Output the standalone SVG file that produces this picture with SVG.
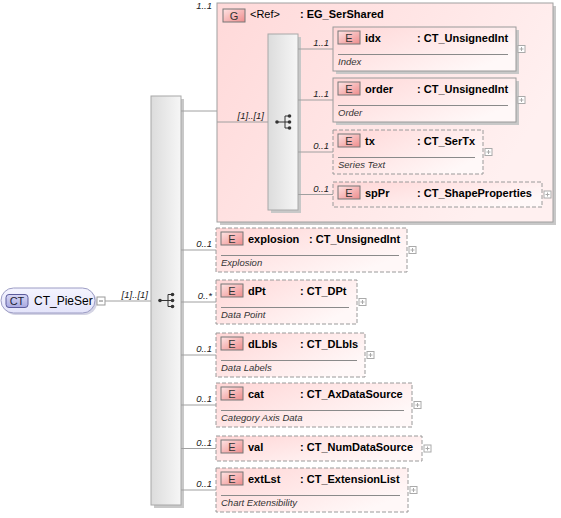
<svg xmlns="http://www.w3.org/2000/svg" width="561" height="518" viewBox="0 0 561 518">
<defs>
<linearGradient id="elG" x1="0" y1="0" x2="1" y2="0.6"><stop offset="0" stop-color="#ffd6d6"/><stop offset="1" stop-color="#fff8f8"/></linearGradient>
<linearGradient id="grpG" x1="0" y1="0" x2="1" y2="0.4"><stop offset="0" stop-color="#ffd9d9"/><stop offset="1" stop-color="#fff0f0"/></linearGradient>
<linearGradient id="bdG" x1="0" y1="0" x2="1" y2="1"><stop offset="0" stop-color="#ffe4e4"/><stop offset="1" stop-color="#ee8c8c"/></linearGradient>
<linearGradient id="seqG" x1="0" y1="0" x2="1" y2="0"><stop offset="0" stop-color="#dcdcdc"/><stop offset="1" stop-color="#f6f6f6"/></linearGradient>
<linearGradient id="ctG" x1="0" y1="0" x2="0" y2="1"><stop offset="0" stop-color="#f4f4ff"/><stop offset="1" stop-color="#e4e4fa"/></linearGradient>
<linearGradient id="ctB" x1="0" y1="0" x2="0" y2="1"><stop offset="0" stop-color="#d8d8f6"/><stop offset="1" stop-color="#a8a8e0"/></linearGradient>
<g id="seqIcon">
<line x1="-7" y1="0" x2="1" y2="0" stroke="#333"/>
<line x1="1" y1="-6" x2="1" y2="6" stroke="#333"/>
<line x1="1" y1="-6" x2="5" y2="-6" stroke="#333"/>
<line x1="1" y1="6" x2="5" y2="6" stroke="#333"/>
<line x1="1" y1="0" x2="5" y2="0" stroke="#333"/>
<circle cx="-7" cy="0" r="1.8" fill="#333"/>
<circle cx="5.5" cy="-6" r="1.8" fill="#333"/>
<circle cx="5.5" cy="0" r="1.8" fill="#333"/>
<circle cx="5.5" cy="6" r="1.8" fill="#333"/>
</g>
<g id="plus">
<rect x="0" y="0" width="7" height="7" fill="#fff" stroke="#aaa"/>
<path d="M1.5 3.5H5.5M3.5 1.5V5.5" stroke="#aaa"/>
</g>
</defs>
<style>
text{font-family:"Liberation Sans",Arial,sans-serif}
.ln{stroke:#a0a0a0;stroke-width:1;fill:none}
.card{font-size:9.5px;font-style:italic;fill:#222;text-anchor:end}
.nm{font-size:11px;font-weight:bold;fill:#000}
.doc{font-size:9.5px;font-style:italic;fill:#333}
.box{fill:url(#elG);stroke:#9a9a9a}
.opt{stroke-dasharray:4 2}
.shd{fill:#c8c8c8}
.sep{stroke:#8a8a8a}
.bd{fill:url(#bdG);stroke:#777}
.bl{font-size:11px;fill:#333;text-anchor:middle}
.seq{fill:url(#seqG);stroke:#a8a8a8}
</style>

<g id="CT_PieSer">
<rect x="3" y="290" width="94" height="25" rx="12.5" fill="#d4d4e4"/>
<rect x="1" y="288" width="94" height="25" rx="12.5" fill="url(#ctG)" stroke="#9c9cc4"/>
<rect x="6" y="294.5" width="22" height="13" rx="3" fill="url(#ctB)" stroke="#5c5c9c"/>
<text x="17" y="305" style="font-size:11px;fill:#223" text-anchor="middle">CT</text>
<text x="34" y="305" style="font-size:12px;fill:#000">CT_PieSer</text>
<rect x="97" y="297" width="8" height="8" fill="#fff" stroke="#999"/>
<line x1="99" y1="301" x2="103" y2="301" stroke="#777"/>
</g>

<g id="seq1">
<rect x="154" y="99" width="30" height="409" class="shd"/>
<rect x="151" y="96" width="30" height="409" class="seq"/>
<use href="#seqIcon" x="167" y="300.5"/>
</g>

<g id="EG_SerShared">
<rect x="220" y="6" width="336" height="219" class="shd"/>
<rect x="217" y="3" width="336" height="219" fill="url(#grpG)" stroke="#a0a0a0"/>
<rect x="223" y="9" width="22" height="13" class="bd"/>
<text class="bl" x="234" y="20">G</text>
<text x="250" y="18" style="font-size:11px;fill:#000">&lt;Ref&gt;</text>
<text class="nm" x="300" y="18">: EG_SerShared</text>
</g>

<g id="seq2">
<rect x="271" y="37" width="30" height="176" class="shd"/>
<rect x="268" y="34" width="30" height="176" class="seq"/>
<use href="#seqIcon" x="284" y="122"/>
</g>

<g id="idx">
<rect x="336" y="30" width="183" height="44" class="shd"/>
<rect x="333" y="27" width="183" height="44" class="box"/>
<rect x="338" y="31" width="22" height="13" class="bd"/><text class="bl" x="349" y="42">E</text>
<text class="nm" x="365" y="42">idx</text><text class="nm" x="417" y="42">: CT_UnsignedInt</text>
<line class="sep" x1="338" y1="54.5" x2="508" y2="54.5"/>
<text class="doc" x="338" y="65">Index</text>
<use href="#plus" x="518" y="45.5"/>
</g>

<g id="order">
<rect x="336" y="81" width="183" height="44" class="shd"/>
<rect x="333" y="78" width="183" height="44" class="box"/>
<rect x="338" y="82" width="22" height="13" class="bd"/><text class="bl" x="349" y="93">E</text>
<text class="nm" x="365" y="93">order</text><text class="nm" x="417" y="93">: CT_UnsignedInt</text>
<line class="sep" x1="338" y1="105.5" x2="508" y2="105.5"/>
<text class="doc" x="338" y="116">Order</text>
<use href="#plus" x="518" y="96.5"/>
</g>

<g id="tx">
<rect x="333" y="130" width="150" height="44" class="box opt"/>
<rect x="338" y="134" width="22" height="13" class="bd"/><text class="bl" x="349" y="145">E</text>
<text class="nm" x="365" y="145">tx</text><text class="nm" x="417" y="145">: CT_SerTx</text>
<line class="sep" x1="338" y1="157.5" x2="475" y2="157.5"/>
<text class="doc" x="338" y="168">Series Text</text>
<use href="#plus" x="485" y="148.5"/>
</g>

<g id="spPr">
<rect x="333" y="182" width="209" height="25" class="box opt"/>
<rect x="338" y="186" width="22" height="13" class="bd"/><text class="bl" x="349" y="197">E</text>
<text class="nm" x="365" y="197">spPr</text><text class="nm" x="417" y="197">: CT_ShapeProperties</text>
<use href="#plus" x="544" y="191"/>
</g>

<g id="explosion">
<rect x="216" y="228" width="191" height="44" class="box opt"/>
<rect x="221" y="232" width="22" height="13" class="bd"/><text class="bl" x="232" y="243">E</text>
<text class="nm" x="248" y="243">explosion</text><text class="nm" x="309" y="243">: CT_UnsignedInt</text>
<line class="sep" x1="221" y1="255.5" x2="399" y2="255.5"/>
<text class="doc" x="221" y="266">Explosion</text>
<use href="#plus" x="409" y="246.5"/>
</g>

<g id="dPt">
<rect x="216" y="280" width="141" height="44" class="box opt"/>
<rect x="221" y="284" width="22" height="13" class="bd"/><text class="bl" x="232" y="295">E</text>
<text class="nm" x="248" y="295">dPt</text><text class="nm" x="300" y="295">: CT_DPt</text>
<line class="sep" x1="221" y1="307.5" x2="349" y2="307.5"/>
<text class="doc" x="221" y="318">Data Point</text>
<use href="#plus" x="359" y="298.5"/>
</g>

<g id="dLbls">
<rect x="216" y="333" width="149" height="44" class="box opt"/>
<rect x="221" y="337" width="22" height="13" class="bd"/><text class="bl" x="232" y="348">E</text>
<text class="nm" x="248" y="348">dLbls</text><text class="nm" x="300" y="348">: CT_DLbls</text>
<line class="sep" x1="221" y1="360.5" x2="357" y2="360.5"/>
<text class="doc" x="221" y="371">Data Labels</text>
<use href="#plus" x="367" y="351.5"/>
</g>

<g id="cat">
<rect x="216" y="383" width="196" height="44" class="box opt"/>
<rect x="221" y="387" width="22" height="13" class="bd"/><text class="bl" x="232" y="398">E</text>
<text class="nm" x="248" y="398">cat</text><text class="nm" x="300" y="398">: CT_AxDataSource</text>
<line class="sep" x1="221" y1="410.5" x2="404" y2="410.5"/>
<text class="doc" x="221" y="421">Category Axis Data</text>
<use href="#plus" x="414" y="401.5"/>
</g>

<g id="val">
<rect x="216" y="436" width="206" height="25" class="box opt"/>
<rect x="221" y="440" width="22" height="13" class="bd"/><text class="bl" x="232" y="451">E</text>
<text class="nm" x="248" y="451">val</text><text class="nm" x="300" y="451">: CT_NumDataSource</text>
<use href="#plus" x="424" y="445"/>
</g>

<g id="extLst">
<rect x="216" y="468" width="192" height="44" class="box opt"/>
<rect x="221" y="472" width="22" height="13" class="bd"/><text class="bl" x="232" y="483">E</text>
<text class="nm" x="248" y="483">extLst</text><text class="nm" x="300" y="483">: CT_ExtensionList</text>
<line class="sep" x1="221" y1="495.5" x2="400" y2="495.5"/>
<text class="doc" x="221" y="506">Chart Extensibility</text>
<use href="#plus" x="410" y="486.5"/>
</g>

<g id="connectors">
<line class="ln" x1="105" y1="301" x2="151" y2="301"/>
<line class="ln" x1="181" y1="111" x2="217" y2="111"/>
<line class="ln" x1="217" y1="122" x2="268" y2="122"/>
<line class="ln" x1="298" y1="49" x2="333" y2="49"/>
<line class="ln" x1="298" y1="100" x2="333" y2="100"/>
<line class="ln" x1="298" y1="152" x2="333" y2="152"/>
<line class="ln" x1="298" y1="194.5" x2="333" y2="194.5"/>
<line class="ln" x1="181" y1="250" x2="216" y2="250"/>
<line class="ln" x1="181" y1="302" x2="216" y2="302"/>
<line class="ln" x1="181" y1="355" x2="216" y2="355"/>
<line class="ln" x1="181" y1="405" x2="216" y2="405"/>
<line class="ln" x1="181" y1="448.5" x2="216" y2="448.5"/>
<line class="ln" x1="181" y1="490" x2="216" y2="490"/>
<text class="card" x="148" y="298">[1]..[1]</text>
<text class="card" x="264" y="119">[1]..[1]</text>
<text class="card" x="212" y="9">1..1</text>
<text class="card" x="329" y="46">1..1</text>
<text class="card" x="329" y="97">1..1</text>
<text class="card" x="329" y="149">0..1</text>
<text class="card" x="329" y="191.5">0..1</text>
<text class="card" x="212" y="247">0..1</text>
<text class="card" x="212" y="299">0..*</text>
<text class="card" x="212" y="352">0..1</text>
<text class="card" x="212" y="402">0..1</text>
<text class="card" x="212" y="445.5">0..1</text>
<text class="card" x="212" y="487">0..1</text>
</g>
</svg>
